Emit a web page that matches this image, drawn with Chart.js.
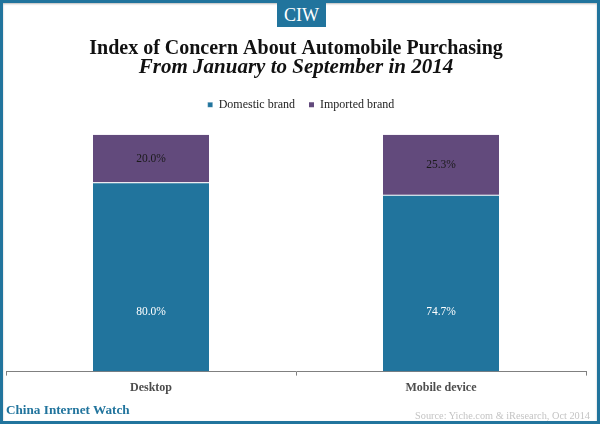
<!DOCTYPE html>
<html>
<head>
<meta charset="utf-8">
<script src="https://cdn.jsdelivr.net/npm/chart.js@4"></script>
<style>
  html, body { margin: 0; padding: 0; background: #fff; }
  #wrap { position: relative; width: 600px; height: 425px; overflow: hidden; font-family: "Liberation Serif", serif; }
  #frame { position: absolute; left: 0; top: 0; width: 594px; height: 418px; border: 3px solid #21749d; box-shadow: inset 0 1px 2px #bbb; }
  #badge { position: absolute; left: 277px; top: 2px; width: 49px; height: 25px; background: #21749d; color: #fff; font-size: 18px; line-height: 27px; text-align: center; }
  #brand { position: absolute; left: 6px; top: 402px; color: #21749d; font-weight: bold; font-size: 13.2px; }
  #source { position: absolute; right: 10px; top: 410px; color: #c4c4c4; font-size: 10.3px; }
  canvas { position: absolute; left: 0; top: 0; }
</style>
</head>
<body>
<div id="wrap">
  <canvas id="myChart" width="600" height="425"></canvas>
  <div id="frame"></div>
  <div id="badge">CIW</div>
  <div id="brand">China Internet Watch</div>
  <div id="source">Source: Yiche.com &amp; iResearch, Oct 2014</div>
</div>
<script>
const categorias = ["Desktop", "Mobile device"];
const domestic = [80.0, 74.7];
const imported = [20.0, 25.3];

// value labels: imported in the middle of its segment, domestic lower down the bar
const etiquetas = {
  id: "etiquetas",
  afterLayout(chart) {
    // legend sits higher and a bit to the right of where the layout puts it
    chart.legend.top -= 14;
    chart.legend.bottom -= 14;
    chart.legend.left += 10;
  },
  afterDatasetsDraw(chart) {
    const ctx = chart.ctx;
    ctx.save();
    ctx.font = '11.5px "Liberation Serif"';
    ctx.textAlign = "center";
    ctx.textBaseline = "middle";
    chart.data.datasets.forEach((ds, i) => {
      ctx.fillStyle = i === 0 ? "#ffffff" : "#1a1a1a";
      chart.getDatasetMeta(i).data.forEach((bar, j) => {
        const p = bar.getCenterPoint();
        const y = i === 0 ? chart.scales.y.getPixelForValue(25) : p.y;
        ctx.fillText(ds.data[j].toFixed(1) + "%", p.x, y);
      });
    });
    ctx.restore();
  },
};

const config = {
  type: "bar",
  data: {
    labels: categorias,
    datasets: [
      { label: "Domestic brand", data: domestic, backgroundColor: "#21749d", borderColor: "#ffffff", borderWidth: { top: 1 } },
      { label: "Imported brand", data: imported, backgroundColor: "#624a7c", borderColor: "#ffffff", borderWidth: 0 },
    ],
  },
  options: {
    responsive: false,
    animation: false,
    layout: { padding: { left: 6, right: 14, top: 0, bottom: 25 } },
    datasets: { bar: { barPercentage: 0.4, categoryPercentage: 1 } },
    scales: {
      x: {
        stacked: true,
        grid: { drawOnChartArea: false, drawTicks: true, tickLength: 4, color: "#808080" },
        border: { color: "#808080" },
        ticks: { color: "#4d4d4d", padding: 5, font: { family: "Liberation Serif", size: 12, weight: "bold" } },
      },
      y: { stacked: true, display: false, min: 0, max: 100 },
    },
    plugins: {
      title: {
        display: true,
        text: "Index of Concern About Automobile Purchasing",
        color: "#111111",
        font: { family: "Liberation Serif", size: 20, weight: "bold", lineHeight: 1 },
        padding: { top: 39, bottom: 0 },
      },
      subtitle: {
        display: true,
        text: "From January to September in 2014",
        color: "#111111",
        font: { family: "Liberation Serif", size: 21, weight: "bold", style: "italic", lineHeight: 0.85 },
        padding: { top: 0, bottom: 22 },
      },
      legend: {
        display: true,
        position: "top",
        labels: {
          color: "#222222",
          font: { family: "Liberation Serif", size: 12 },
          usePointStyle: true,
          pointStyle: "rect",
          boxWidth: 5,
          boxHeight: 5,
          padding: 14,
        },
      },
      tooltip: { enabled: false },
    },
  },
  plugins: [etiquetas],
};

const myChart = new Chart(document.getElementById("myChart"), config);
</script>
</body>
</html>
